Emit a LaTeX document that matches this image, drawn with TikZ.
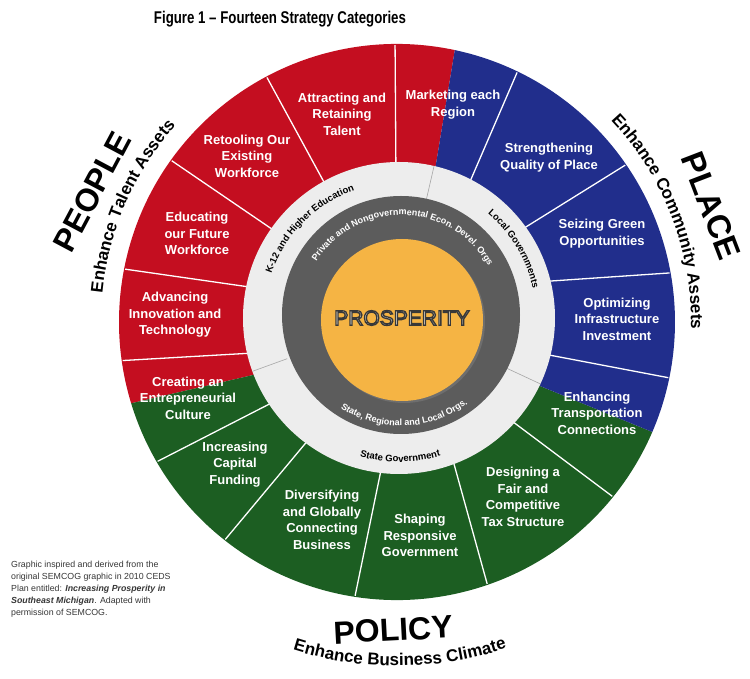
\documentclass[tikz,border=0pt]{standalone}
\usepackage{fontspec}
\setmainfont{Liberation Sans}
\usepackage{graphicx}
\usetikzlibrary{decorations.text,shadows}
\definecolor{redc}{RGB}{196,14,32}
\definecolor{bluec}{RGB}{33,46,140}
\definecolor{greenc}{RGB}{28,94,34}
\definecolor{ringw}{RGB}{237,237,237}
\definecolor{ringd}{RGB}{92,92,92}
\definecolor{orangec}{RGB}{245,180,68}
\definecolor{notec}{RGB}{55,55,55}
\definecolor{prospc}{RGB}{255,250,235}
\newcommand{\outlinedtxt}[1]{\special{pdf:literal direct 2 Tr 1.3 w 0.22 0.22 0.22 RG}#1\special{pdf:literal direct 0 Tr}}
\newcommand{\arcfontbig}{\fontsize{17}{17}\selectfont\bfseries}
\newcommand{\arcfontsmall}{\fontsize{9.5}{9.5}\selectfont\bfseries}
\newcommand{\arcfontdark}{\fontsize{9}{9}\selectfont\bfseries}
\begin{document}
\begin{tikzpicture}[x=1pt,y=1pt,
  seglabel/.style={text=white, align=center, inner sep=0pt, font=\fontsize{13}{16.6}\selectfont\bfseries},
  bigword/.style={font=\fontsize{33}{33}\selectfont\bfseries, inner sep=0pt},
  divider/.style={draw=white, line width=1.3pt},
  ringsep/.style={draw=black!35, line width=0.6pt}
]
\useasboundingbox (-397,-357) rectangle (353,322);
\fill[white] (-397,-357) rectangle (353,322);

% title
\node[font=\fontsize{17}{17}\selectfont\bfseries] (title) at (-117,303) {\scalebox{0.78}[1]{Figure 1 – Fourteen Strategy Categories}};

% coloured sectors
\fill[redc] (0,0) -- (75:130pt) -- (78:278pt) arc[start angle=78, end angle=197, radius=278pt] -- (201.5:130pt) -- cycle;
\fill[greenc] (0,0) -- (201.5:130pt) -- (197:278pt) arc[start angle=197, end angle=336.7, radius=278pt] -- (335.5:130pt) -- cycle;
\fill[bluec] (0,0) -- (335.5:130pt) -- (336.7:278pt) arc[start angle=336.7, end angle=438, radius=278pt] -- (75:130pt) -- cycle;

% dividers between the fourteen categories
\foreach \a/\b in {90.4/90.4, 117.5/118, 143.3/144.4, 166.6/169, 192/188, 212.8/210.2, 233/231.7, 263.8/261.3, 292/289, 319.2/321, 347.7/348.4, 15.6/10.2, 36.7/34.5, 62.3/64.3}
  \draw[divider] (\a:150pt) -- (\b:277pt);

% light ring
\fill[ringw] (2,4) circle[radius=156pt];
\foreach \a in {77,200,335}
  \draw[ringsep, shift={(2,4)}] (\a:119pt) -- (\a:156pt);

% dark ring
\fill[ringd] (4,7) circle[radius=119pt];

% core
\fill[orangec, drop shadow={opacity=0.5, shadow xshift=2pt, shadow yshift=-2pt}] (5,2) circle[radius=81pt];
\node[text=prospc, font=\fontsize{21}{21}\selectfont, inner sep=0pt] (prosperity) at (5,4) {\outlinedtxt{PROSPERITY}};

% texts on the light ring
\path[shift={(2,4)}, decorate, decoration={text along path, text align=center, text={|\arcfontsmall|K-12 and Higher Education}}]
  (172:135pt) arc[start angle=172, end angle=98, radius=135pt];
\path[shift={(2,4)}, decorate, decoration={text along path, text align=center, text={|\arcfontsmall|Local Governments}}]
  (62:137pt) arc[start angle=62, end angle=0, radius=137pt];
\path[shift={(2,4)}, decorate, decoration={text along path, text align=center, text={|\arcfontsmall|State Government}}]
  (235:144pt) arc[start angle=235, end angle=306, radius=144pt];

% texts on the dark ring
\path[shift={(4,7)}, decorate, decoration={text along path, text align=center, text color=white, text={|\arcfontdark|Private and Nongovernmental Econ. Devel. Orgs}}]
  (165:100pt) arc[start angle=165, end angle=12, radius=100pt];
\path[shift={(4,7)}, decorate, decoration={text along path, text align=center, text color=white, text={|\arcfontdark|State, Regional and Local Orgs.}}]
  (222:111pt) arc[start angle=222, end angle=322, radius=111pt];

% category labels
\node[seglabel] (attract) at (-55,208) {Attracting and\\Retaining\\Talent};
\node[seglabel] (market) at (56,217.5) {Marketing each\\Region};
\node[seglabel] (retool) at (-150,166) {Retooling Our\\Existing\\Workforce};
\node[seglabel] (strength) at (152,164.5) {Strengthening\\Quality of Place};
\node[seglabel] (educate) at (-200,88.5) {Educating\\our Future\\Workforce};
\node[seglabel] (green) at (205,88.5) {Seizing Green\\Opportunities};
\node[seglabel] (advance) at (-222,7) {Advancing\\Innovation and\\Technology};
\node[seglabel] (infra) at (220,3) {Optimizing\\Infrastructure\\Investment};
\node[seglabel] (entre) at (-209,-76) {Creating an\\Entrepreneurial\\Culture};
\node[seglabel] (transport) at (200,-91) {Enhancing\\Transportation\\Connections};
\node[seglabel] (capital) at (-162,-142.5) {Increasing\\Capital\\Funding};
\node[seglabel] (diversify) at (-75,-198) {Diversifying\\and Globally\\Connecting\\Business};
\node[seglabel] (shaping) at (23,-213.5) {Shaping\\Responsive\\Government};
\node[seglabel] (tax) at (126,-175) {Designing a\\Fair and\\Competitive\\Tax Structure};

% outer headings
\node[bigword, rotate=62, font=\fontsize{32}{32}\selectfont\bfseries] (people) at (-305,130) {PEOPLE};
\node[bigword, rotate=-69] (place) at (314,116) {PLACE};
\node[bigword, rotate=3, font=\fontsize{32}{32}\selectfont\bfseries] (policy) at (-4,-308) {POLICY};

\path[decorate, decoration={text along path, text align=center, text={|\arcfontbig|Enhance Talent Assets}}]
  (186:296pt) arc[start angle=186, end angle=126.8, radius=296pt];
\path[decorate, decoration={text along path, text align=center, text={|\arcfontbig|Enhance Community Assets}}]
  (55:294pt) arc[start angle=55, end angle=-13, radius=294pt];
\path[decorate, decoration={text along path, text align=center, text={|\arcfontbig|Enhance Business Climate}}]
  (240:344pt) arc[start angle=240, end angle=301, radius=344pt];

% source note
\node[anchor=north west, align=left, text=notec, inner sep=0pt, font=\fontsize{8.8}{12.2}\selectfont] (note) at (-386,-238.5)
  {Graphic inspired and derived from the\\original SEMCOG graphic in 2010 CEDS\\Plan entitled: \textbf{\textit{Increasing Prosperity in}}\\\textbf{\textit{Southeast Michigan}}. Adapted with\\permission of SEMCOG.};
\end{tikzpicture}
\end{document}
